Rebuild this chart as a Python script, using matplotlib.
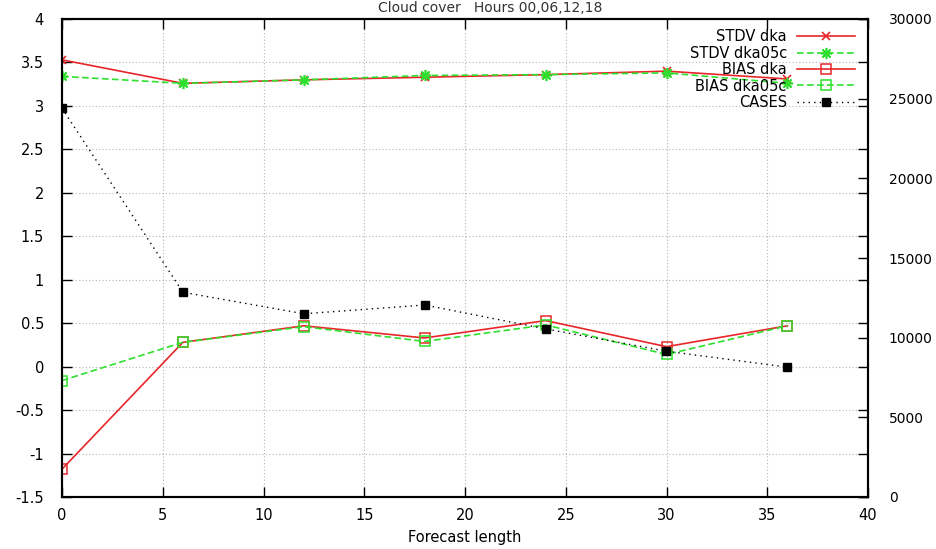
import numpy as np
import matplotlib.pyplot as plt
from matplotlib.ticker import MultipleLocator

plt.rcParams['font.family'] = ['DejaVu Sans']

# forecast lengths (hours)
fclen = [0, 6, 12, 18, 24, 30, 36]

stdv_dka = [3.53, 3.26, 3.30, 3.33, 3.36, 3.40, 3.31]
stdv_dka05c = [3.34, 3.26, 3.30, 3.35, 3.36, 3.38, 3.26]
bias_dka = [-1.18, 0.28, 0.47, 0.33, 0.53, 0.23, 0.47]
bias_dka05c = [-0.16, 0.28, 0.46, 0.29, 0.48, 0.14, 0.47]
cases = [24400, 12850, 11500, 12050, 10550, 9150, 8150]

title = "Cloud cover   Hours 00,06,12,18"

red = '#e8262a'
green = '#2ee02e'
fs = 10.5

fig = plt.figure(figsize=(9.37, 5.49), dpi=100)
ax = fig.add_axes([62/937, 1 - 497/549, (868-62)/937, (497-19)/549])
ax2 = ax.twinx()

ax.plot(fclen, stdv_dka, color=red, lw=1.2, marker='x', ms=6, mew=1.2, label='STDV dka')
ax.plot(fclen, stdv_dka05c, color=green, lw=1.2, ls=(0, (4, 2)), marker=(8, 2, 0), ms=8, mew=1.2,
        label='STDV dka05c')
ax.plot(fclen, bias_dka, color=red, lw=1.2, marker='s', ms=7, mfc='none', mew=1.1, label='BIAS dka')
ax.plot(fclen, bias_dka05c, color=green, lw=1.2, ls=(0, (4, 2)), marker='s', ms=7, mfc='none',
        mew=1.1, label='BIAS dka05c')
ax2.plot(fclen, cases, color='black', lw=1, ls=(0, (1, 3)), marker='s', ms=6, label='CASES')

ax.set_xlim(0, 40)
ax.set_ylim(-1.5, 4)
ax2.set_ylim(0, 30000)
ax.xaxis.set_major_locator(MultipleLocator(5))
ax2.yaxis.set_major_locator(MultipleLocator(5000))
ax.set_yticks(np.arange(-1.5, 4.01, 0.5))
ax.set_yticklabels(['-1.5', '-1', '-0.5', '0', '0.5', '1', '1.5', '2', '2.5', '3', '3.5', '4'])

ax.grid(True, color='#b4b4b4', ls=(0, (1, 2)), lw=0.8)
ax.tick_params(direction='in', length=7, width=1, top=True, right=True, labelsize=fs, pad=13)
ax.tick_params(axis='x', pad=8)
ax2.tick_params(direction='in', length=7, width=1, labelsize=10, pad=15)
for a in (ax, ax2):
    for s in a.spines.values():
        s.set_linewidth(1.5)

ax.set_xlabel('Forecast length', fontsize=fs, labelpad=5)

h1, l1 = ax.get_legend_handles_labels()
h2, l2 = ax2.get_legend_handles_labels()
leg = ax2.legend(h1 + h2, l1 + l2, loc='upper right', frameon=False, markerfirst=False,
                 fontsize=fs, handlelength=4.0, labelspacing=0.1, borderaxespad=0.3,
                 handletextpad=0.7, bbox_to_anchor=(0.997, 1.0))

fig.text(0.523, 0.999, title, ha='center', va='top', fontsize=10, color='#333333')

fig.savefig('out.png', dpi=100)
